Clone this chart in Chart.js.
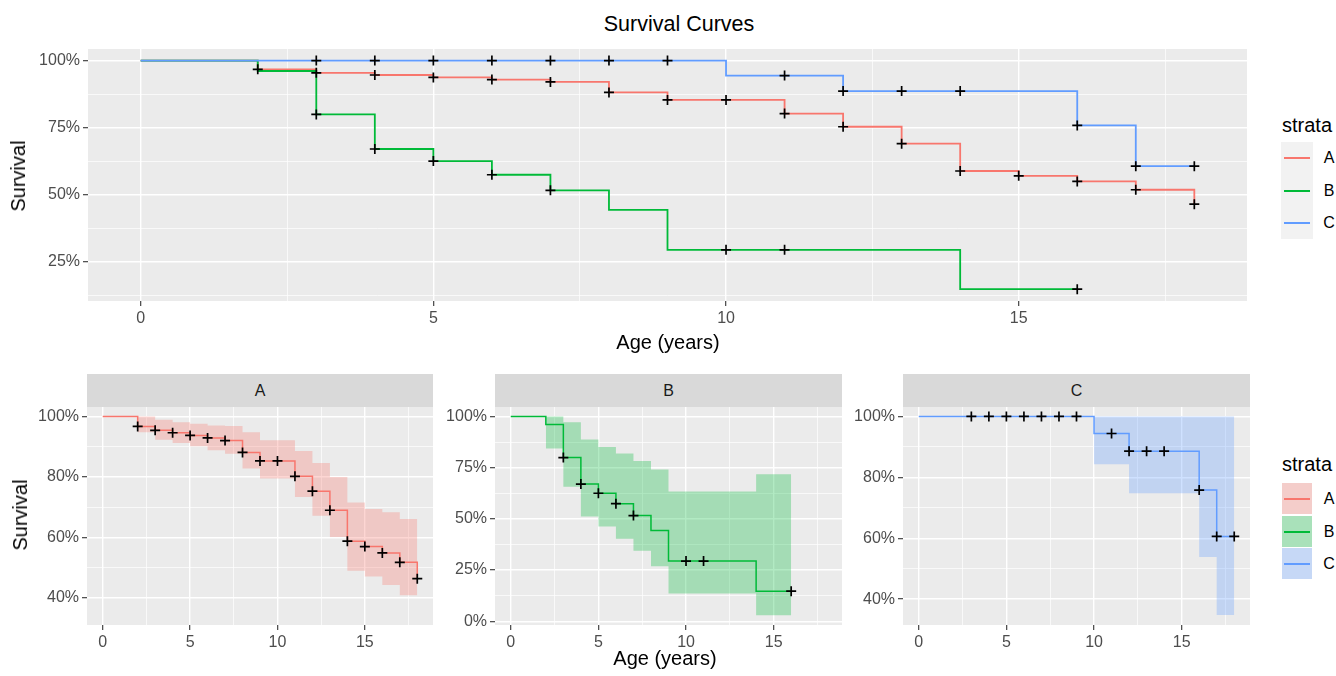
<!DOCTYPE html>
<html>
<head>
<meta charset="utf-8">
<script src="https://cdn.jsdelivr.net/npm/chart.js@4.4.1/dist/chart.umd.min.js"></script>
<style>
body { margin: 0; background: #fff; font-family: "Liberation Sans", Arial, sans-serif; }
#wrap { position: relative; width: 1336px; height: 676px; overflow: hidden; }
canvas, .lbl, .box { position: absolute; }
.lbl { white-space: nowrap; transform: translate(-50%, -50%); line-height: 1; }
</style>
</head>
<body>
<div id="wrap"></div>
<script>
// ---- data ----
const strata = ['A', 'B', 'C'];

const timesA = [0, 2, 3, 4, 5, 6, 7, 8, 9, 10, 11, 12, 13, 14, 15, 16, 17, 18];
const survA = [100, 96.7, 95.4, 94.6, 93.7, 92.9, 92.0, 88.1, 85.3, 85.3, 80.2, 75.3, 69.0, 58.8, 57.0, 54.9, 51.8, 46.4];
const censorA = [2, 3, 4, 5, 6, 7, 8, 9, 10, 11, 12, 13, 14, 15, 16, 17, 18];
const bandTimesA = [2, 3, 4, 5, 6, 7, 8, 9, 11, 12, 13, 14, 15, 16, 17, 18];
const upperA = [100, 98.9, 98.1, 97.6, 97.0, 96.8, 94.8, 92.1, 88.6, 84.6, 80.0, 71.6, 69.4, 68.3, 66.1, 66.1];
const lowerA = [94.8, 92.3, 91.2, 90.1, 88.8, 87.7, 82.8, 79.5, 73.4, 67.2, 60.2, 49.0, 47.1, 44.3, 40.9, 40.9];

const timesB = [0, 2, 3, 4, 5, 6, 7, 8, 9, 14, 16];
const survB = [100, 96.1, 79.9, 67.0, 62.5, 57.4, 51.6, 44.3, 29.4, 14.7, 14.7];
const censorB = [3, 4, 5, 6, 7, 10, 11, 16];
const bandTimesB = [2, 3, 4, 5, 6, 7, 8, 9, 14, 16];
const upperB = [100, 97.2, 88.7, 85.1, 81.9, 78.2, 74.1, 63.3, 71.8, 71.8];
const lowerB = [84.3, 65.7, 51.1, 46.3, 40.3, 34.5, 26.9, 13.6, 2.9, 2.9];

const timesC = [0, 10, 12, 16, 17, 18];
const survC = [100, 94.4, 88.6, 75.8, 60.6, 60.6];
const censorC = [3, 4, 5, 6, 7, 8, 9, 11, 12, 13, 14, 16, 17, 18];
const bandTimesC = [10, 12, 16, 17, 18];
const upperC = [100, 100, 100, 100, 100];
const lowerC = [84.3, 74.8, 53.8, 34.8, 34.8];

// tick labels
const xMajor = [0, 5, 10, 15];
const xMinor = [2.5, 7.5, 12.5, 17.5];
const yMajorTop = [25, 50, 75, 100];
const yMinorTop = [12.5, 37.5, 62.5, 87.5];
const yMajorAC = [40, 60, 80, 100];
const yMinorAC = [50, 70, 90];
const yMajorB = [0, 25, 50, 75, 100];
const yMinorB = [12.5, 37.5, 62.5, 87.5];

// ---- styles ----
const FONT = '"Liberation Sans", Arial, sans-serif';
const colors = { A: '#F8766D', B: '#00BA38', C: '#619CFF' };
const fills = { A: 'rgba(248,118,109,0.3)', B: 'rgba(0,186,56,0.3)', C: 'rgba(97,156,255,0.3)' };

const wrap = document.getElementById('wrap');

const panelBg = {
    id: 'panelBg',
    beforeDraw(chart) {
        const a = chart.chartArea;
        const c = chart.ctx;
        c.save();
        c.fillStyle = '#EBEBEB';
        c.fillRect(a.left, a.top, a.right - a.left, a.bottom - a.top);
        c.restore();
    }
};

function stepAt(times, surv, t) {
    let v = surv[0];
    times.forEach((tt, i) => { if (tt <= t) v = surv[i]; });
    return v;
}

function pts(xs, ys) {
    return xs.map((x, i) => ({ x: x, y: ys[i] }));
}

// higher order is drawn first, so later strata end up on top (like ggplot)
function strataSets(key, times, surv, censor, band, lineWidth) {
    const rank = strata.indexOf(key);
    const sets = [];
    if (band) {
        sets.push({ data: pts(band.t, band.up), borderColor: 'transparent', borderWidth: 0, pointRadius: 0,
            stepped: true, fill: '+1', backgroundColor: fills[key], order: 20 - rank });
        sets.push({ data: pts(band.t, band.lo), borderColor: 'transparent', borderWidth: 0, pointRadius: 0,
            stepped: true, fill: false, order: 20 - rank });
    }
    sets.push({ data: pts(times, surv), borderColor: colors[key], borderWidth: lineWidth, stepped: true,
        pointRadius: 0, fill: false, order: 10 - rank });
    sets.push({ data: censor.map(t => ({ x: t, y: stepAt(times, surv, t) })), showLine: false,
        pointStyle: 'cross', pointRadius: 5, pointBorderColor: '#000', pointBorderWidth: 1.7,
        pointBackgroundColor: '#000', fill: false, order: 1 });
    return sets;
}

function axis(min, max, majors, minors, fmt, fit) {
    return {
        type: 'linear',
        min: min,
        max: max,
        afterBuildTicks: s => {
            s.ticks = majors.concat(minors).sort((a, b) => a - b).map(v => ({ value: v }));
        },
        afterFit: fit,
        ticks: {
            autoSkip: false,
            maxRotation: 0,
            padding: 3,
            color: '#4D4D4D',
            font: { size: 16, family: FONT },
            callback: v => majors.includes(v) ? fmt(v) : ''
        },
        grid: {
            color: '#FFFFFF',
            lineWidth: c => majors.includes(c.tick.value) ? 1.4 : 0.7,
            drawTicks: true,
            tickLength: 5,
            tickWidth: 1.1,
            tickColor: c => majors.includes(c.tick.value) ? '#333333' : 'rgba(0,0,0,0)'
        },
        border: { display: false }
    };
}

function makeChart(left, top, width, height, pad, yWidth, yMin, yMax, yMajor, yMinor, datasets) {
    const cv = document.createElement('canvas');
    cv.width = width;
    cv.height = height;
    cv.style.left = left + 'px';
    cv.style.top = top + 'px';
    cv.style.width = width + 'px';
    cv.style.height = height + 'px';
    wrap.appendChild(cv);
    return new Chart(cv, {
        type: 'line',
        data: { datasets: datasets },
        options: {
            responsive: false,
            animation: false,
            events: [],
            devicePixelRatio: 1,
            layout: { padding: pad },
            plugins: { legend: { display: false }, tooltip: { enabled: false } },
            scales: {
                x: axis(-0.9, 18.9, xMajor, xMinor, v => String(v), s => { s.height = 30; }),
                y: axis(yMin, yMax, yMajor, yMinor, v => v + '%', s => { s.width = yWidth; })
            }
        },
        plugins: [panelBg]
    });
}

function addText(txt, x, y, size, color, rot) {
    const d = document.createElement('div');
    d.className = 'lbl';
    d.textContent = txt;
    d.style.left = x + 'px';
    d.style.top = y + 'px';
    d.style.fontSize = size + 'px';
    d.style.color = color;
    if (rot) d.style.transform = 'translate(-50%, -50%) rotate(-90deg)';
    wrap.appendChild(d);
    return d;
}

function addBox(x, y, w, h, bg) {
    const d = document.createElement('div');
    d.className = 'box';
    d.style.left = x + 'px';
    d.style.top = y + 'px';
    d.style.width = w + 'px';
    d.style.height = h + 'px';
    d.style.background = bg;
    wrap.appendChild(d);
    return d;
}

// ---- top: all strata together ----
addText('Survival Curves', 679, 25, 21.5, '#000');

const topSets = []
    .concat(strataSets('A', timesA, survA, censorA, null, 1.8))
    .concat(strataSets('B', timesB, survB, censorB, null, 1.8))
    .concat(strataSets('C', timesC, survC, censorC, null, 1.8));
// plot area: x 88..1247, y 49..301
makeChart(0, 29, 1267, 307, { top: 20, right: 20, bottom: 5, left: 0 }, 88, 10.3, 104.3, yMajorTop, yMinorTop, topSets);

addText('Survival', 18, 176, 20, '#000', true);
addText('Age (years)', 668, 342, 20, '#000');

// top legend
addText('strata', 1307, 125, 20, '#000');
addBox(1281, 142, 32, 97, '#F2F2F2');
strata.forEach((k, i) => {
    const cy = Math.round(158 + i * 32.7);
    addBox(1284, cy - 1, 26, 2, colors[k]);
    addText(k, 1329, cy, 16, '#000');
});

// ---- bottom: one panel per stratum ----
const panels = [
    { key: 'A', left: 87, right: 433, yMin: 31.1, yMax: 103.1, yMajor: yMajorAC, yMinor: yMinorAC,
      times: timesA, surv: survA, censor: censorA, band: { t: bandTimesA, up: upperA, lo: lowerA } },
    { key: 'B', left: 495, right: 842, yMin: -1.8, yMax: 104.6, yMajor: yMajorB, yMinor: yMinorB,
      times: timesB, surv: survB, censor: censorB, band: { t: bandTimesB, up: upperB, lo: lowerB } },
    { key: 'C', left: 903, right: 1250, yMin: 31.5, yMax: 103.1, yMajor: yMajorAC, yMinor: yMinorAC,
      times: timesC, surv: survC, censor: censorC, band: { t: bandTimesC, up: upperC, lo: lowerC } }
];

panels.forEach(p => {
    const w = p.right - p.left;
    // plot area y 407..625
    makeChart(p.left - 70, 387, 70 + w + 10, 273, { top: 20, right: 10, bottom: 5, left: 0 }, 70,
        p.yMin, p.yMax, p.yMajor, p.yMinor,
        strataSets(p.key, p.times, p.surv, p.censor, p.band, 1.5));
    addBox(p.left, 374, w, 33, '#D9D9D9');
    addText(p.key, p.left + w / 2, 391, 16, '#1A1A1A');
});

addText('Survival', 20, 515, 20, '#000', true);
addText('Age (years)', 665, 658, 20, '#000');

// bottom legend
addText('strata', 1307, 464, 20, '#000');
strata.forEach((k, i) => {
    const y0 = Math.round(483 + i * 32.5);
    addBox(1282, y0, 30, 31, '#F2F2F2');
    addBox(1282, y0, 30, 31, fills[k]);
    addBox(1284, y0 + 15, 26, 2, colors[k]);
    addText(k, 1329, y0 + 16, 16, '#000');
});
</script>
</body>
</html>
